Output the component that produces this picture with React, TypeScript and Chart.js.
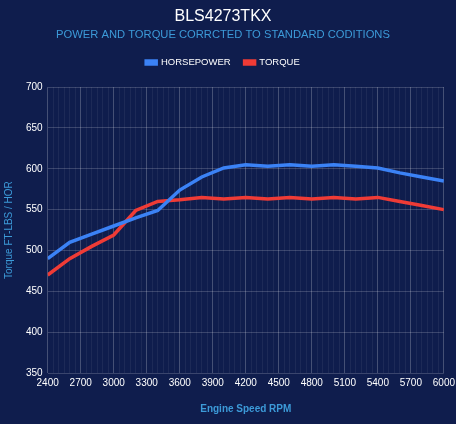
import React, { useEffect, useRef } from "react";
import { Chart, registerables } from "chart.js";

Chart.register(...registerables);

const rpm = [2400, 2600, 2800, 3000, 3200, 3400, 3600, 3800, 4000, 4200, 4400, 4600, 4800, 5000, 5200, 5400, 5600, 5800, 6000];
const horsepower = [490, 510, 520, 530, 540, 549, 574, 590, 601, 605, 603, 605, 603, 605, 603, 601, 595, 590, 585];
const torque = [470, 490, 505, 519, 549, 560, 562, 565, 563, 565, 563, 565, 563, 565, 563, 565, 560, 555, 550];

const titleText = "BLS4273TKX";
const subtitleText = "POWER AND TORQUE CORRCTED TO STANDARD CODITIONS";
const xTitle = "Engine Speed RPM";
const yTitle = "Torque FT-LBS / HOR";

const BG = "#0f1d4d";
const FONT = "'Liberation Sans', Arial, sans-serif";

const legendMargin = {
  id: "legendMargin",
  beforeInit(chart: any) {
    const lg = chart.legend;
    if (!lg) return;
    const orig = lg.fit;
    lg.fit = function () {
      orig.bind(lg)();
      this.height += 10;
    };
  },
};

export default function App() {
  const ref = useRef<HTMLCanvasElement | null>(null);
  useEffect(() => {
    document.body.style.margin = "0";
    const ctx = ref.current!;
    const chart = new Chart(ctx, {
      type: "line",
      data: {
        datasets: [
          {
            label: "HORSEPOWER",
            data: rpm.map((r, i) => ({ x: r, y: horsepower[i] })),
            borderColor: "#3b82f6",
            backgroundColor: "#3b82f6",
            borderWidth: 3.5,
            pointRadius: 0,
            tension: 0,
          },
          {
            label: "TORQUE",
            data: rpm.map((r, i) => ({ x: r, y: torque[i] })),
            borderColor: "#ef3b36",
            backgroundColor: "#ef3b36",
            borderWidth: 3.5,
            pointRadius: 0,
            tension: 0,
          },
        ],
      },
      plugins: [legendMargin],
      options: {
        animation: false,
        responsive: true,
        maintainAspectRatio: false,
        layout: { padding: { left: 0, right: 13, top: 5, bottom: 9 } },
        plugins: {
          title: {
            display: true,
            text: titleText,
            color: "#ffffff",
            font: { family: FONT, size: 16, weight: "normal" },
            padding: { top: 2, bottom: 2 },
          },
          subtitle: {
            display: true,
            text: subtitleText,
            color: "#3c9ad8",
            font: { family: FONT, size: 11.2, weight: "normal" },
            padding: { top: 0, bottom: 2 },
          },
          legend: {
            display: true,
            labels: {
              color: "#ffffff",
              boxWidth: 10,
              boxHeight: 3,
              font: { family: FONT, size: 9.5 },
              padding: 14,
            },
          },
          tooltip: { enabled: false },
        },
        scales: {
          x: {
            type: "linear",
            min: 2400,
            max: 6000,
            position: "bottom",
            ticks: {
              stepSize: 300,
              color: "#ffffff",
              font: { family: FONT, size: 10 },
              padding: 4,
              maxRotation: 0,
              autoSkip: false,
              callback: (v: any) => String(v),
            },
            grid: { color: "rgba(255,255,255,0.18)", drawTicks: false },
            border: { display: false },
            title: {
              display: true,
              text: xTitle,
              color: "#3c9ad8",
              font: { family: FONT, size: 10, weight: "bold" },
              padding: { top: 10, bottom: 0 },
            },
          },
          x2: {
            type: "linear",
            min: 2400,
            max: 6000,
            position: "top",
            ticks: { display: false, stepSize: 50, maxTicksLimit: 200 },
            grid: { color: "rgba(255,255,255,0.06)", drawTicks: false },
            border: { display: false },
          },
          y: {
            min: 350,
            max: 700,
            ticks: {
              stepSize: 50,
              color: "#ffffff",
              font: { family: FONT, size: 10 },
              padding: 5,
            },
            grid: { color: "rgba(255,255,255,0.18)", drawTicks: false },
            border: { display: false },
            title: {
              display: true,
              text: yTitle,
              color: "#3c9ad8",
              font: { family: FONT, size: 10 },
              padding: { top: 3, bottom: 6 },
            },
          },
        },
      },
    });
    return () => chart.destroy();
  }, []);
  return (
    <div style={{ position: "absolute", left: 0, top: 0, width: 456, height: 424, background: BG, overflow: "hidden" }}>
      <div style={{ position: "relative", width: 459, height: 424 }}>
        <canvas ref={ref} />
      </div>
    </div>
  );
}
